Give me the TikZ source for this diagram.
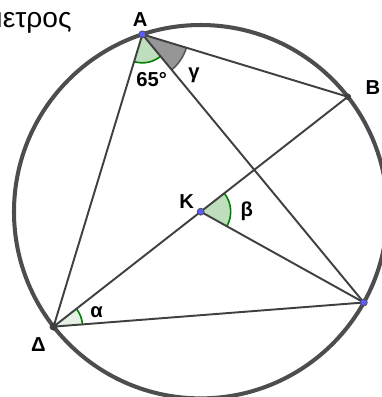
\documentclass[tikz,border=0pt]{standalone}
\usepackage{fontspec}
\setmainfont{Liberation Sans}
\usetikzlibrary{angles}
\definecolor{ggline}{RGB}{64,64,64}
\definecolor{ggcirc}{RGB}{77,77,77}
\definecolor{ggpt}{RGB}{90,90,255}
\definecolor{gggreen}{RGB}{0,128,0}
\definecolor{ggfill}{RGB}{190,222,190}
\definecolor{ggfillpale}{RGB}{228,241,228}
\definecolor{gggray}{RGB}{150,150,150}
\begin{document}
\begin{tikzpicture}[x=0.02cm,y=0.02cm,line cap=round,line join=round,
  seg/.style={draw=ggline,line width=1.1pt},
  bluept/.style={circle,fill=ggpt,draw=black!70,line width=0.4pt,inner sep=0pt,minimum size=1.4mm},
  darkpt/.style={circle,fill=black!75,inner sep=0pt,minimum size=1.3mm},
  ptlabel/.style={font=\fontsize{11.5}{13}\selectfont\bfseries,inner sep=0pt},
  anglabel/.style={font=\fontsize{11.5}{13}\selectfont\bfseries,inner sep=0pt},
  greenang/.style={draw=gggreen,fill=ggfill,line width=0.9pt}]
\clip (-200.7,-185.3) rectangle (181.3,211.7);

% ---- points of the circle, centre K ----
\coordinate (K) at (0,0);
\coordinate (A) at (108.2:186.7);
\coordinate (B) at (38:186.7);
\coordinate (G) at (330.9:186.7);
\coordinate (D) at (218:186.7);

% ---- title, cut off at the left ----
\node[anchor=base east,inner sep=0pt,font=\fontsize{16}{19}\selectfont] (title) at (-128.7,184.7) {μετρος};

% ---- angles ----
\pic[greenang,angle radius=0.57cm] {angle=D--A--G};
\pic[draw=black!65,fill=gggray,line width=0.9pt,angle radius=0.92cm] {angle=G--A--B};
\pic[greenang,angle radius=0.6cm] {angle=G--K--B};
\pic[greenang,fill=ggfillpale,angle radius=0.58cm] {angle=G--D--K};

% ---- circle and chords ----
\draw[ggcirc,line width=2.3pt] (K) circle (186.7);
\draw[seg] (A) -- (B);
\draw[seg] (A) -- (D);
\draw[seg] (A) -- (G);
\draw[seg] (D) -- (K) -- (B);
\draw[seg] (K) -- (G);
\draw[seg] (D) -- (G);

% ---- point marks ----
\node[bluept] (ptA) at (A) {};
\node[bluept] (ptK) at (K) {};
\node[bluept] (ptG) at (G) {};
\node[darkpt] (ptB) at (B) {};
\node[darkpt,minimum size=1.6mm] (ptD) at (D) {};

% ---- labels ----
\node[ptlabel] (labA) at (-60.4,191.7) {A};
\node[ptlabel] (labB) at (172.3,123.7) {B};
\node[ptlabel] (labK) at (-14,10) {K};
\node[ptlabel] (labD) at (-162.4,-133.3) {Δ};
\node[anglabel] (lab65) at (-49,131.7) {65°};
\node[anglabel] (labg) at (-6.7,136.5) {γ};
\node[anglabel] (labb) at (46,0) {β};
\node[anglabel] (laba) at (-104,-100) {α};
\end{tikzpicture}
\end{document}
